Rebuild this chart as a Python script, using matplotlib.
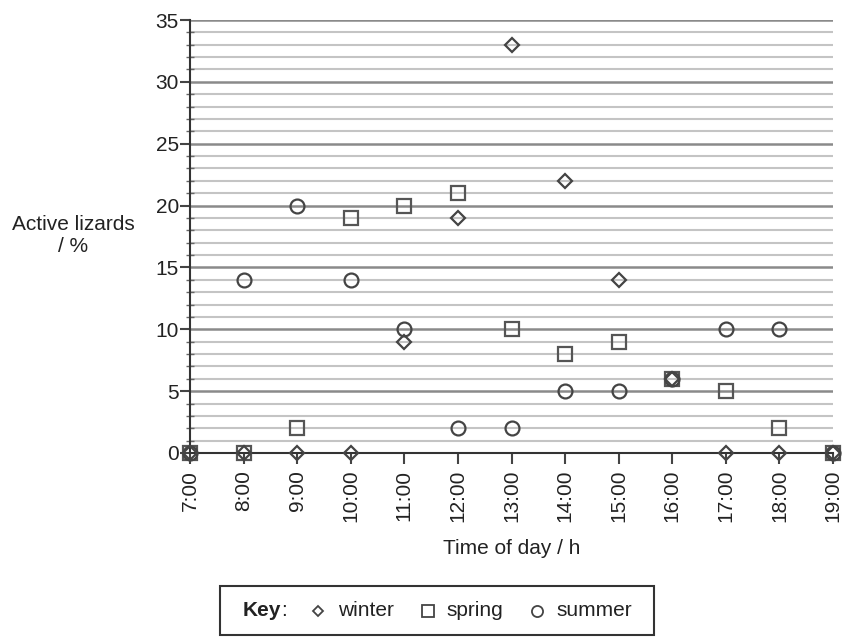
import matplotlib
matplotlib.use("Agg")
import matplotlib.pyplot as plt
from matplotlib.lines import Line2D
from matplotlib.patches import Rectangle
from matplotlib.ticker import MultipleLocator

plt.rcParams['font.family'] = ['Liberation Sans', 'DejaVu Sans']

# data
hours = [7, 8, 9, 10, 11, 12, 13, 14, 15, 16, 17, 18, 19]
hour_labels = [f"{h}:00" for h in hours]
winter = [0, 0, 0, 0, 9, 19, 33, 22, 14, 6, 0, 0, 0]
spring = [0, 0, 2, 19, 20, 21, 10, 8, 9, 6, 5, 2, 0]
summer = [0, 14, 20, 14, 10, 2, 2, 5, 5, 6, 10, 10, 0]

TXT = "#222222"
FS = 15

fig = plt.figure(figsize=(8.43, 6.41), dpi=100)
ax = fig.add_axes([190 / 843, 1 - 453 / 641, (833 - 190) / 843, (453 - 20) / 641])

ax.set_xlim(7, 19)
ax.set_ylim(0, 35)

# grid: light minor lines every 1, darker major every 5
ax.yaxis.set_major_locator(MultipleLocator(5))
ax.yaxis.set_minor_locator(MultipleLocator(1))
ax.grid(axis='y', which='minor', color='#c4c4c4', linewidth=1.5)
ax.grid(axis='y', which='major', color='#8a8a8a', linewidth=1.8)
ax.set_axisbelow(True)

for sp in ['right', 'top']:
    ax.spines[sp].set_visible(False)
ax.spines['left'].set_color('#333333')
ax.spines['left'].set_linewidth(1.5)
ax.spines['bottom'].set_color('#333333')
ax.spines['bottom'].set_linewidth(1.5)

ax.set_xticks(hours)
ax.set_xticklabels(hour_labels, rotation=90, fontsize=FS, color=TXT)
ax.tick_params(axis='x', length=8, width=1.5, color='#444444', pad=4)
ax.tick_params(axis='y', which='major', length=7, width=1.5, color='#444444',
               labelsize=FS, labelcolor=TXT, pad=1)
ax.tick_params(axis='y', which='minor', direction='inout', length=6, width=1,
               color='#666666')

mk = dict(linestyle='none', markerfacecolor='none', clip_on=False, zorder=5)
ax.plot(hours, spring, marker='s', markersize=10, markeredgecolor='#555555',
        markeredgewidth=1.6, **mk)
ax.plot(hours, summer, marker='o', markersize=10, markeredgecolor='#444444',
        markeredgewidth=1.6, **mk)
ax.plot(hours, winter, marker='D', markersize=7, markeredgecolor='#444444',
        markeredgewidth=1.6, **mk)

fig.text(73 / 843, 1 - 236 / 641, "Active lizards\n/ %", ha='center', va='center',
         fontsize=FS, color=TXT, linespacing=1.2)
fig.text(512 / 843, 1 - 548 / 641, "Time of day / h", ha='center', va='center',
         fontsize=FS, color=TXT)

# key box
fig.add_artist(Rectangle((220 / 843, 1 - 635 / 641), (654 - 220) / 843, (635 - 586) / 641,
                         transform=fig.transFigure, fill=False, edgecolor='#333333',
                         linewidth=1.5))
ky = 1 - 611 / 641
key_txt = fig.text(243 / 843, ky, "Key", ha='left', va='center', fontsize=FS,
                   color=TXT, fontweight='bold')
fig.add_artist(plt.Annotation(":", xy=(1, 0.5), xycoords=key_txt, xytext=(0, 0),
                              textcoords='offset points', ha='left', va='center',
                              fontsize=FS, color=TXT))
key_items = [('D', 5.5, 318, 'winter', 338), ('s', 9, 428, 'spring', 446),
             ('o', 8, 537, 'summer', 556)]
for m, ms, mx, lab, tx in key_items:
    fig.add_artist(Line2D([mx / 843], [ky], transform=fig.transFigure, marker=m,
                          markersize=ms, markerfacecolor='none',
                          markeredgecolor='#444444', markeredgewidth=1.3,
                          linestyle='none'))
    fig.text(tx / 843, ky, lab, ha='left', va='center', fontsize=FS, color=TXT)

fig.savefig("out.png", dpi=100, facecolor='white')
